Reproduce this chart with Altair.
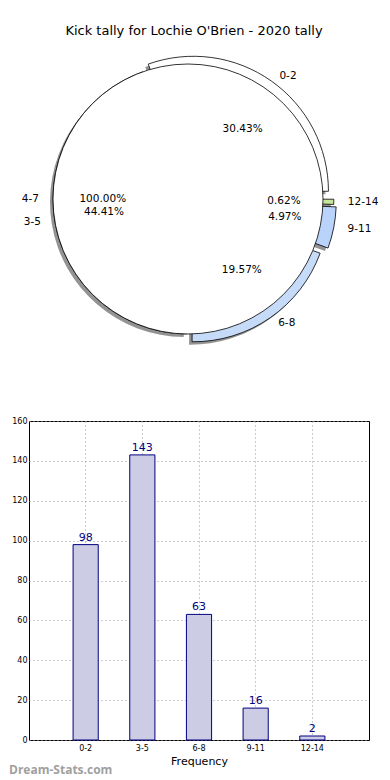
import altair as alt
import pandas as pd

# ---------------- data ----------------
title_text = "Kick tally for Lochie O'Brien - 2020 tally"
categories = ["0-2", "3-5", "6-8", "9-11", "12-14"]
counts = [98, 143, 63, 16, 2]
cover_labels = ["4-7"]
cover_values = [1]
y_ticks = [0, 20, 40, 60, 80, 100, 120, 140, 160]
watermark_text = "Dream-Stats.com"

# ---------------- style ----------------
slice_colors = ["#ffffff", "#ffffff", "#c6dbf8", "#b9d3fb", "#c6e59b"]
explode = [0.07, 0.0, 0.07, 0.1, 0.08]
FONT = "DejaVu Sans"

POX, POY = 30, 8          # page position of the pie view origin
PIE_W, PIE_H = 340, 395
CX, CY = 189 - POX, 198 - POY
R = 135
RX, RY = 142, 128
SH = 3                  # shadow offset

BAR_W, BAR_H = 340, 319
SPACING = 11

pie_df = pd.DataFrame({"cat": categories, "n": counts, "color": slice_colors,
                       "ex": explode, "idx": list(range(len(categories)))})
cover_df = pd.DataFrame({"cat": cover_labels, "n": cover_values, "color": ["#ffffff"],
                         "ex": [0.0], "idx": [0]})


def geom(chart):
    return (chart
            .transform_window(cum="sum(n)", sort=[alt.SortField("idx")], frame=[None, 0])
            .transform_joinaggregate(total="sum(n)")
            .transform_calculate(a0="2*PI*(datum.cum-datum.n)/datum.total",
                                 a1="2*PI*datum.cum/datum.total")
            .transform_calculate(mid="(datum.a0+datum.a1)/2",
                                 t0="PI/2-datum.a0", t1="PI/2-datum.a1")
            .transform_calculate(px=f"{CX}+datum.ex*{R}*cos(datum.mid)",
                                 py=f"{CY}-datum.ex*{R}*sin(datum.mid)",
                                 pct="format(100*datum.n/datum.total,'.2f')+'%'")
            .transform_calculate(ix=f"datum.px+0.6*{RX}*cos(datum.mid)",
                                 iy=f"datum.py-0.6*{RY}*sin(datum.mid)",
                                 ox=f"datum.px+1.05*{RX}*cos(datum.mid)",
                                 oy=f"datum.py-1.1*{RY}*sin(datum.mid)",
                                 sx=f"datum.px-{SH}", sy=f"datum.py+{SH}",
                                 c="cos(datum.mid)"))


def px(f):
    return alt.X(f"{f}:Q", scale=None, axis=None)


def py(f):
    return alt.Y(f"{f}:Q", scale=None, axis=None)


th = alt.Theta("t0:Q", scale=None, stack=False)
th2 = alt.Theta2("t1:Q")

shadows = geom(alt.Chart(pie_df)).mark_arc(radius=R, fill="#3a3a3a", fillOpacity=0.55).encode(
    x=px("sx"), y=py("sy"), theta=th, theta2=th2)
slices = geom(alt.Chart(pie_df)).mark_arc(radius=R, stroke="black", strokeWidth=0.8).encode(
    x=px("px"), y=py("py"), theta=th, theta2=th2, fill=alt.Fill("color:N", scale=None))
cover = geom(alt.Chart(cover_df)).mark_arc(radius=R, stroke="black", strokeWidth=0.8).encode(
    x=px("px"), y=py("py"), theta=th, theta2=th2, fill=alt.Fill("color:N", scale=None))


def texts(df):
    inner = geom(alt.Chart(df)).mark_text(font=FONT, fontSize=10.5, color="black").encode(
        x=px("ix"), y=py("iy"), text="pct:N")
    out_r = geom(alt.Chart(df)).transform_filter("datum.c >= 0").mark_text(
        font=FONT, fontSize=10.5, color="black", align="left").encode(
        x=px("ox"), y=py("oy"), text="cat:N")
    out_l = geom(alt.Chart(df)).transform_filter("datum.c < 0").mark_text(
        font=FONT, fontSize=10.5, color="black", align="right").encode(
        x=px("ox"), y=py("oy"), text="cat:N")
    return [inner, out_r, out_l]


title_mark = alt.Chart(pd.DataFrame({"t": [title_text]})).mark_text(
    font=FONT, fontSize=13, color="black").encode(
    text="t:N", x=alt.value(195 - POX), y=alt.value(30 - POY))

pie = alt.layer(shadows, slices, cover, *texts(pie_df), *texts(cover_df), title_mark).properties(
    width=PIE_W, height=PIE_H, view=alt.ViewBackground(stroke="transparent"))

# ---------------- bar chart ----------------
bar_df = pd.DataFrame({"cat": categories, "n": counts})

xenc = alt.X("cat:N", sort=categories,
             scale=alt.Scale(paddingInner=0.556, paddingOuter=0.778),
             axis=alt.Axis(title="Frequency", labelAngle=0, labelFont=FONT, labelFontSize=8,
                           labelColor="black", titleFont=FONT, titleFontSize=11,
                           titleFontWeight="normal", titleColor="black", grid=True,
                           gridDash=[1, 3], gridColor="#9a9a9a", gridOpacity=1,
                           ticks=False, domain=False, labelPadding=4, titlePadding=3,
                           bandPosition=0.5))
yenc = alt.Y("n:Q", scale=alt.Scale(domain=[0, 160]),
             axis=alt.Axis(title=None, values=y_ticks, labelFont=FONT, labelFontSize=8,
                           labelColor="black", grid=True, gridDash=[1, 3],
                           gridColor="#9a9a9a", gridOpacity=1, ticks=False, domain=False,
                           labelPadding=2))

bars = alt.Chart(bar_df).mark_bar(fill="#ccccE5", stroke="#000080", strokeWidth=1).encode(
    x=xenc, y=yenc)
bar_labels = alt.Chart(bar_df).mark_text(dy=-7, color="#000080", fontSize=11, font=FONT).encode(
    x=xenc, y=yenc, text="n:Q")
watermark = alt.Chart(pd.DataFrame({"t": [watermark_text]})).mark_text(
    font="Open Sans", fontSize=12, fontWeight="bold", color="#a0a0a0", align="left").encode(
    text="t:N", x=alt.value(-20), y=alt.value(BAR_H + 30))

bar = alt.layer(bars, bar_labels, watermark).properties(
    width=BAR_W, height=BAR_H, view=alt.ViewBackground(stroke="black", strokeWidth=1))

chart = alt.vconcat(pie, bar, spacing=SPACING).properties(padding=0).configure_view(
    stroke="transparent")

chart.save("out.html", embed_options={"renderer": "svg", "actions": False})
